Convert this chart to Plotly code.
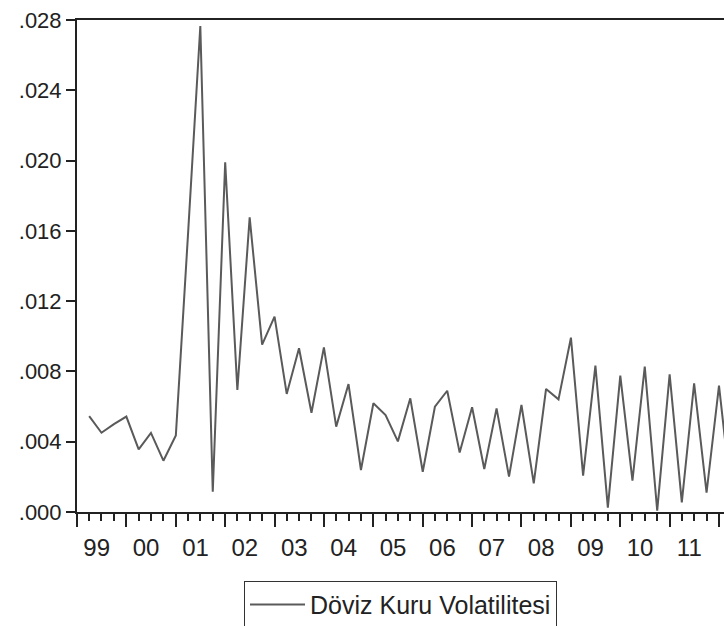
import pandas as pd
import plotly.graph_objects as go

# Quarterly observations (first plotted quarter after the 1999 start tick)
quarters = pd.date_range("1999-04-01", periods=53, freq="QS")

volatility = [
    0.00546, 0.00451, 0.00500, 0.00543, 0.00356, 0.00450, 0.00292, 0.00436,
    0.01580, 0.02766, 0.00116, 0.01990, 0.00694, 0.01677, 0.00952, 0.01112,
    0.00672, 0.00932, 0.00565, 0.00937, 0.00486, 0.00728, 0.00239, 0.00619,
    0.00552, 0.00402, 0.00647, 0.00229, 0.00599, 0.00690, 0.00338, 0.00596,
    0.00245, 0.00590, 0.00201, 0.00609, 0.00163, 0.00700, 0.00641, 0.00992,
    0.00207, 0.00833, 0.00025, 0.00776, 0.00178, 0.00827, 0.00008, 0.00783,
    0.00055, 0.00732, 0.00110, 0.00719, 0.00090,
]

series_name = "Döviz Kuru Volatilitesi"

y_tick_vals = [0.000, 0.004, 0.008, 0.012, 0.016, 0.020, 0.024, 0.028]
y_tick_text = [".000", ".004", ".008", ".012", ".016", ".020", ".024", ".028"]

axis_color = "#222222"
font_family = "Liberation Sans, Arial, sans-serif"

fig = go.Figure()
fig.add_trace(go.Scatter(
    x=quarters,
    y=volatility,
    mode="lines",
    name=series_name,
    line=dict(color="#5a5a5a", width=2),
))

fig.update_layout(
    width=724,
    height=626,
    margin=dict(l=77, r=0, t=20, b=114, autoexpand=False),
    paper_bgcolor="white",
    plot_bgcolor="white",
    font=dict(family=font_family, color=axis_color),
    showlegend=True,
    legend=dict(
        orientation="h",
        x=0.5, xanchor="center",
        y=-0.1395, yanchor="top",
        bordercolor="#333333",
        borderwidth=1,
        bgcolor="white",
        itemwidth=55,
        font=dict(size=25, family=font_family, color=axis_color),
    ),
    xaxis=dict(
        type="date",
        range=["1999-01-01", "2012-02-07"],
        tick0="1999-01-01",
        dtick="M12",
        tickformat="%y",
        ticklabelmode="period",
        ticks="outside",
        ticklen=13,
        tickwidth=2,
        tickcolor=axis_color,
        tickfont=dict(size=24, family=font_family, color=axis_color),
        ticklabelshift=-5,
        ticklabeloverflow="allow",
        minor=dict(
            dtick="M3",
            tick0="1999-01-01",
            ticks="outside",
            ticklen=7,
            tickwidth=1.5,
            tickcolor=axis_color,
            showgrid=False,
        ),
        showline=True,
        linewidth=2,
        linecolor=axis_color,
        mirror=True,
        showgrid=False,
        zeroline=False,
        automargin=False,
    ),
    yaxis=dict(
        range=[0, 0.028],
        tickvals=y_tick_vals,
        ticktext=y_tick_text,
        ticks="outside",
        ticklen=9,
        tickwidth=2,
        tickcolor=axis_color,
        tickfont=dict(size=22, family=font_family, color=axis_color),
        ticklabeloverflow="allow",
        showline=True,
        linewidth=2,
        linecolor=axis_color,
        showgrid=False,
        zeroline=False,
        automargin=False,
    ),
)

fig.write_html(
    "out.html",
    config={"displayModeBar": False},
    post_script="document.body.style.margin='0';document.body.style.overflow='hidden';",
)
